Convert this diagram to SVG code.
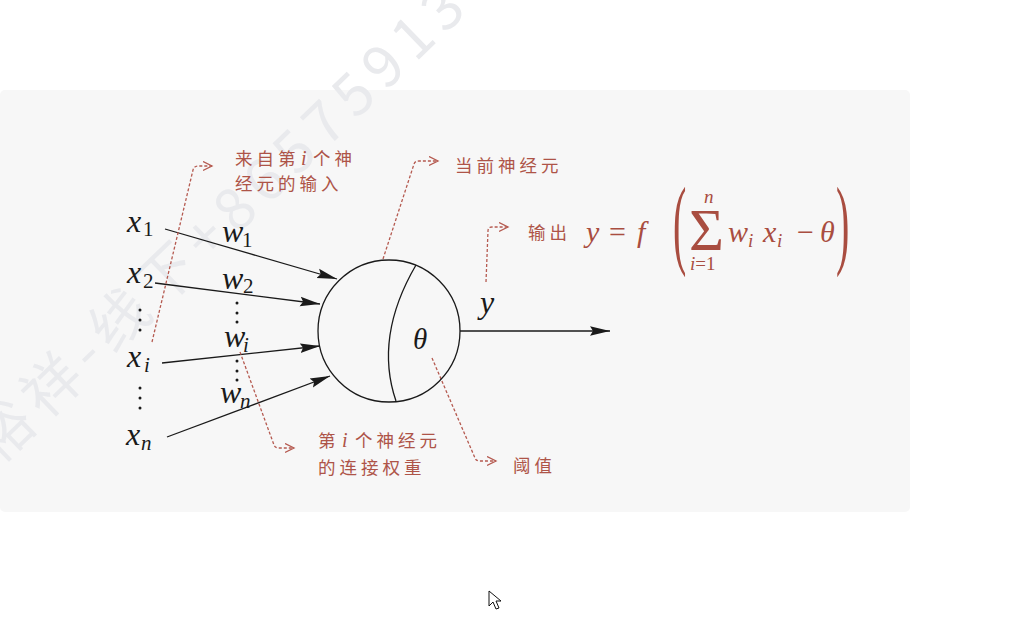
<svg xmlns="http://www.w3.org/2000/svg" width="1034" height="644" viewBox="0 0 1034 644">
<defs>
<style>
.m{font-family:"Liberation Serif","DejaVu Serif",serif;font-style:italic;font-size:32px;fill:#1a1a1a}
.r{font-style:normal}
.s{font-size:21px;font-style:normal}
.si{font-size:21px;font-style:italic}
.cn{font-family:"Noto Sans CJK SC",sans-serif;font-size:17.5px;fill:#ae5448;letter-spacing:4px}
.ci{font-family:"Liberation Serif",serif;font-style:italic;font-size:20px;fill:#ae5448}
.ann{fill:none;stroke:#b55a50;stroke-width:1.3;stroke-dasharray:3 2}
.wire{stroke:#1a1a1a;stroke-width:1.3;fill:none}
.dot{fill:#1a1a1a}
.fm{fill:#a94d40;font-size:30px}
.fs{fill:#a94d40;font-size:19px}
.wm{font-family:"Noto Sans CJK SC",sans-serif;font-size:58px;fill:#e9eaed}
</style>
<marker id="ah" markerUnits="userSpaceOnUse" markerWidth="22" markerHeight="12" refX="20" refY="6" orient="auto"><path d="M0,1.2 L20,6 L0,10.8 L3,6 Z" fill="#1a1a1a"/></marker>
<marker id="oh" markerUnits="userSpaceOnUse" markerWidth="12" markerHeight="12" refX="9" refY="5" orient="auto"><path d="M0,0.5 L9,5 L0,9.5" fill="none" stroke="#b55a50" stroke-width="1.3"/></marker>
</defs>
<rect x="0" y="90" width="910" height="422" rx="5" fill="#f7f7f7"/>
<g id="watermark" transform="translate(235,208) rotate(-44)">
<text class="wm" x="-350" y="21" letter-spacing="8">裕祥-线下</text>
<text class="wm" x="-58" y="21" letter-spacing="9">+865759137</text>
</g>
<g id="connectors">
<path class="wire" d="M165,229 L337,279" marker-end="url(#ah)"/>
<path class="wire" d="M155,283 L320,304" marker-end="url(#ah)"/>
<path class="wire" d="M162,363 L320,346" marker-end="url(#ah)"/>
<path class="wire" d="M167,437 L330,376" marker-end="url(#ah)"/>
<path class="wire" d="M460,331 L610,331" marker-end="url(#ah)"/>
<path class="ann" d="M152,342 L193,170 Q194,166 198,166 L212,166" marker-end="url(#oh)"/>
<path class="ann" d="M383,259 L414,164 Q415,161 419,161 L438,161" marker-end="url(#oh)"/>
<path class="ann" d="M486,282 L488,231 Q488,227 492,227 L508,227" marker-end="url(#oh)"/>
<path class="ann" d="M240,352 L274,445 Q275,448 279,448 L294,448" marker-end="url(#oh)"/>
<path class="ann" d="M432,358 L475,458 Q476,461 480,461 L496,461" marker-end="url(#oh)"/>
</g>
<g id="neuron">
<circle cx="389" cy="331" r="71" fill="none" stroke="#1a1a1a" stroke-width="1.3"/>
<path class="wire" d="M416,265 Q374,337 396,401"/>
<text class="m" x="413" y="349" style="font-size:29px">θ</text>
</g>
<g id="inputs">
<text class="m" x="127" y="232">x<tspan class="s" x="143" y="236">1</tspan></text>
<text class="m" x="127" y="283">x<tspan class="s" x="143" y="288">2</tspan></text>
<text class="m" x="127" y="367">x<tspan class="si" x="144" y="372">i</tspan></text>
<text class="m" x="126" y="445">x<tspan class="si" x="141" y="450">n</tspan></text>
<circle class="dot" cx="140" cy="310" r="1.5"/><circle class="dot" cx="140" cy="320" r="1.5"/><circle class="dot" cx="140" cy="330" r="1.5"/>
<circle class="dot" cx="140" cy="388" r="1.5"/><circle class="dot" cx="140" cy="398" r="1.5"/><circle class="dot" cx="140" cy="408" r="1.5"/>
</g>
<g id="weights">
<text class="m" x="222" y="242">w<tspan class="s" x="242" y="247">1</tspan></text>
<text class="m" x="222" y="289">w<tspan class="s" x="243" y="293">2</tspan></text>
<text class="m" x="224" y="347">w<tspan class="si" x="243" y="352">i</tspan></text>
<text class="m" x="220" y="403">w<tspan class="si" x="240" y="408">n</tspan></text>
<circle class="dot" cx="237" cy="303" r="1.5"/><circle class="dot" cx="237" cy="313" r="1.5"/><circle class="dot" cx="237" cy="322" r="1.5"/>
<circle class="dot" cx="237" cy="361" r="1.5"/><circle class="dot" cx="237" cy="371" r="1.5"/><circle class="dot" cx="237" cy="380" r="1.5"/>
</g>
<g id="output">
<text class="m" x="480" y="313">y</text>
</g>
<g id="label-input">
<text class="cn" x="235" y="165">来自第</text>
<text class="ci" x="301" y="165">i</text>
<text class="cn" x="313" y="165">个神</text>
<text class="cn" x="235" y="190">经元的输入</text>
</g>
<g id="label-neuron">
<text class="cn" x="455" y="172">当前神经元</text>
</g>
<g id="label-output">
<text class="cn" x="528" y="239">输出</text>
<text class="m fm" x="586" y="242">y</text>
<text class="m fm r" x="609" y="242">=</text>
<text class="m fm" x="637" y="242">f</text>
<text class="m r" x="0" y="0" transform="translate(673,256) scale(1,2.5)" style="font-size:40px;fill:#a94d40">(</text>
<text class="m r" x="689" y="250" style="font-size:60px;fill:#a94d40">Σ</text>
<text class="m fs" x="704" y="203">n</text>
<text class="m fs" x="690" y="270">i<tspan class="r">=1</tspan></text>
<text class="m fm" x="728" y="242">w<tspan class="fs" x="748" y="247">i</tspan><tspan x="763" y="242">x</tspan><tspan class="fs" x="777" y="247">i</tspan></text>
<text class="m fm r" x="797" y="242">−</text>
<text class="m fm" x="820" y="242">θ</text>
<text class="m r" x="0" y="0" transform="translate(836,256) scale(1,2.5)" style="font-size:40px;fill:#a94d40">)</text>
</g>
<g id="label-weight">
<text class="cn" x="318" y="447">第</text>
<text class="ci" x="342" y="447">i</text>
<text class="cn" x="355" y="447">个神经元</text>
<text class="cn" x="318" y="474">的连接权重</text>
</g>
<g id="label-threshold">
<text class="cn" x="513" y="472">阈值</text>
</g>
<path d="M489,591 L489,606 L493,602 L496,609 L499,608 L496,601 L501,601 Z" fill="#fff" stroke="#111" stroke-width="1"/>
</svg>
